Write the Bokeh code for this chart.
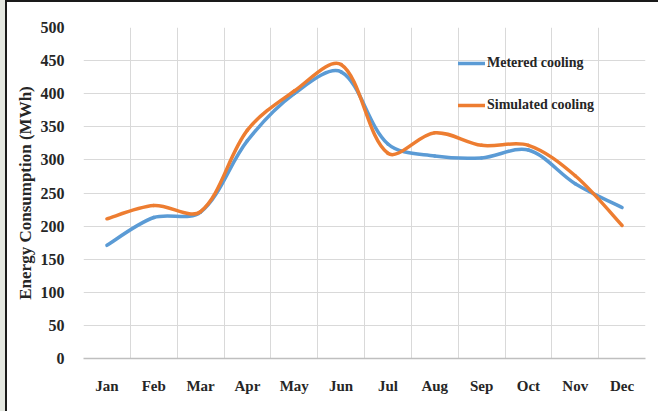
import numpy as np
from bokeh.plotting import figure
from bokeh.models import Range1d, FixedTicker, Legend, LegendItem
from bokeh.embed import file_html
from bokeh.resources import INLINE

months = ["Jan", "Feb", "Mar", "Apr", "May", "Jun", "Jul", "Aug", "Sep", "Oct", "Nov", "Dec"]
metered = [171, 213, 221, 329, 400, 433, 324, 306, 303, 315, 264, 228]
simulated = [211, 231, 222, 345, 404, 444, 310, 341, 322, 322, 276, 201]
y_ticks = [0, 50, 100, 150, 200, 250, 300, 350, 400, 450, 500]

FONT = "Liberation Serif"
TXT = "#262626"

FRAME_W, FRAME_H = 562, 331
X_MAX, Y_MAX = 12, 500


def smooth_segments(xs, ys, sx, sy):
    """Excel-like smoothed line: cubic Bezier control points, chord-length
    weighted in screen space (sx, sy = pixels per data unit)."""
    xs = np.asarray(xs, float)
    ys = np.asarray(ys, float)
    n = len(xs)
    px = np.concatenate([[xs[0]], xs, [xs[-1]]]) * sx
    py = np.concatenate([[ys[0]], ys, [ys[-1]]]) * sy

    def dist(a, b):
        return np.hypot(px[b] - px[a], py[b] - py[a])

    d = dict(x0=[], y0=[], x1=[], y1=[], cx0=[], cy0=[], cx1=[], cy1=[])
    for i in range(n - 1):
        j = i + 1  # index in padded arrays of point i
        d01, d12, d23 = dist(j - 1, j), dist(j, j + 1), dist(j + 1, j + 2)
        f1 = 1 / 6 if d01 == 0 else d12 / (d01 + d12) / 3
        f2 = 1 / 6 if d23 == 0 else d12 / (d12 + d23) / 3
        c0x = px[j] + (px[j + 1] - px[j - 1]) * f1
        c0y = py[j] + (py[j + 1] - py[j - 1]) * f1
        c1x = px[j + 1] - (px[j + 2] - px[j]) * f2
        c1y = py[j + 1] - (py[j + 2] - py[j]) * f2
        d["x0"].append(xs[i]); d["y0"].append(ys[i])
        d["x1"].append(xs[i + 1]); d["y1"].append(ys[i + 1])
        d["cx0"].append(c0x / sx); d["cy0"].append(c0y / sy)
        d["cx1"].append(c1x / sx); d["cy1"].append(c1y / sy)
    return d


xc = [i + 0.5 for i in range(len(months))]
SX, SY = FRAME_W / X_MAX, FRAME_H / Y_MAX

p = figure(frame_width=FRAME_W, frame_height=FRAME_H, output_backend="svg",
           toolbar_location=None, x_range=Range1d(0, X_MAX), y_range=Range1d(0, Y_MAX),
           min_border_left=76, min_border_right=13, min_border_top=25, min_border_bottom=53)
p.outline_line_color = None
p.background_fill_color = "white"
p.border_fill_color = "white"
p.styles = {"border-top": "2px solid #1a1a1a", "border-left": "2px solid #1a1a1a",
            "margin-left": "5px", "box-shadow": "-5px 0 0 0 #E4E7E0"}

# grid
p.xgrid.ticker = FixedTicker(ticks=list(range(0, 13)))
p.ygrid.ticker = FixedTicker(ticks=y_ticks)
p.xgrid.grid_line_color = "#D9D9D9"
p.ygrid.grid_line_color = "#D9D9D9"
p.xgrid.grid_line_width = 1
p.ygrid.grid_line_width = 1

# x axis
p.xaxis.ticker = FixedTicker(ticks=xc)
p.xaxis.major_label_overrides = {x: m for x, m in zip(xc, months)}
p.xaxis.axis_line_color = "#BFBFBF"
p.xaxis.axis_line_width = 1.5
p.xaxis.major_tick_line_color = None
p.xaxis.minor_tick_line_color = None
p.xaxis.major_label_standoff = 13
p.xaxis.major_label_text_font = FONT
p.xaxis.major_label_text_font_style = "bold"
p.xaxis.major_label_text_font_size = "15px"
p.xaxis.major_label_text_color = TXT

# y axis
p.yaxis.ticker = FixedTicker(ticks=y_ticks)
p.yaxis.axis_line_color = None
p.yaxis.major_tick_line_color = None
p.yaxis.minor_tick_line_color = None
p.yaxis.major_label_standoff = 13
p.yaxis.major_label_text_font = FONT
p.yaxis.major_label_text_font_style = "bold"
p.yaxis.major_label_text_font_size = "16px"
p.yaxis.major_label_text_color = TXT
p.yaxis.axis_label = "Energy Consumption (MWh)"
p.yaxis.axis_label_text_font = FONT
p.yaxis.axis_label_text_font_style = "bold"
p.yaxis.axis_label_text_font_size = "17px"
p.yaxis.axis_label_text_color = TXT
p.yaxis.axis_label_standoff = 3

r_met = p.bezier(line_color="#5B9BD5", line_width=3.5, line_cap="round",
                 **smooth_segments(xc, metered, SX, SY))
r_sim = p.bezier(line_color="#ED7D31", line_width=3.5, line_cap="round",
                 **smooth_segments(xc, simulated, SX, SY))

legend = Legend(items=[LegendItem(label="Metered cooling", renderers=[r_met]),
                       LegendItem(label="Simulated cooling", renderers=[r_sim])],
                location=(375, 243), orientation="vertical")
legend.background_fill_alpha = 0
legend.border_line_color = None
legend.padding = 0
legend.margin = 0
legend.spacing = 22
legend.glyph_width = 27
legend.glyph_height = 20
legend.label_height = 20
legend.label_standoff = 2
legend.label_text_font = FONT
legend.label_text_font_style = "bold"
legend.label_text_font_size = "14px"
legend.label_text_color = TXT
p.add_layout(legend, "center")

open("out.html", "w").write(file_html(p, INLINE))
